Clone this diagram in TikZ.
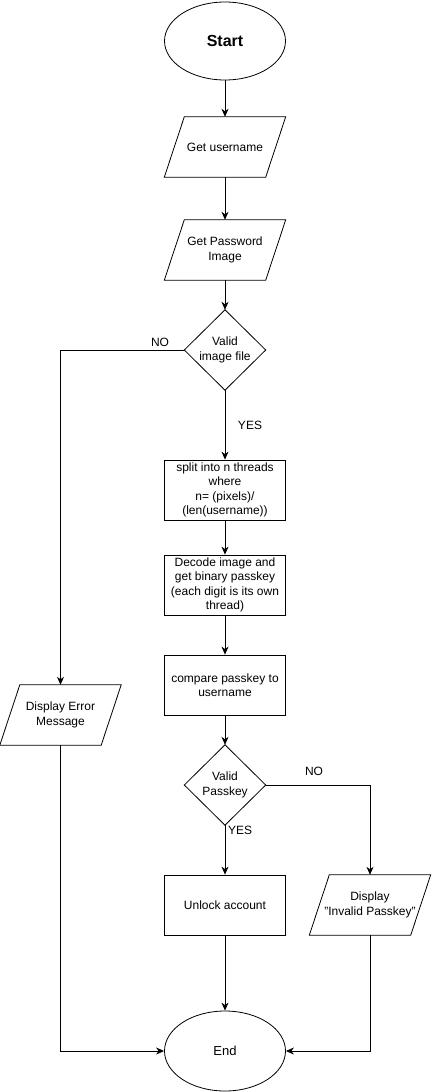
\documentclass[tikz,border=0pt]{standalone}
\usepackage{fontspec}
\setmainfont{Liberation Sans}
\usetikzlibrary{shapes.geometric,arrows.meta}
\begin{document}
\begin{tikzpicture}[x=1pt,y=-1pt,
  base/.style={font=\fontsize{12}{14.5}\selectfont, align=center, inner sep=0pt, text=black},
  term/.style={base, draw, ellipse, minimum width=121, minimum height=80, line width=0.8pt},
  procbox/.style={base, draw, rectangle, minimum width=121, minimum height=60, line width=0.8pt},
  iobox/.style={base, rectangle, minimum width=121, minimum height=60},
  decbox/.style={base, rectangle, minimum width=81, minimum height=80},
  shapeline/.style={line width=0.8pt, line join=miter},
  conn/.style={line width=0.8pt, -{Stealth[length=8pt,width=7pt,inset=2.5pt]}},
  lbl/.style={font=\fontsize{12}{14}\selectfont, inner sep=0pt}
]
\useasboundingbox[fill=white] (0,0) rectangle (431,1092);

\node[term, font=\fontsize{16}{19}\selectfont\bfseries, minimum height=78] (start) at (225,41) {Start};
\node[iobox] (user) at (225,147) {Get username};
\node[iobox] (pwd) at (225,250) {Get Password\\Image};
\node[decbox] (valid1) at (225,350) {Valid\\image file};
\node[procbox] (split) at (225,490) {split into n threads\\where\\n= (pixels)/\\(len(username))};
\node[procbox] (decode) at (225,585) {Decode image and\\get binary passkey\\(each digit is its own\\thread)};
\node[procbox] (compare) at (225,685) {compare passkey to\\username};
\node[iobox] (err) at (60.5,715) {Display Error\\Message};
\node[decbox] (valid2) at (225,785) {Valid\\Passkey};
\node[procbox] (unlock) at (225,905) {Unlock account};
\node[iobox] (inval) at (370,905) {Display\\"Invalid Passkey"};
\node[term, font=\fontsize{13}{15}\selectfont] (end) at (225,1051) {End};

% parallelograms
\foreach \n in {user,pwd,err,inval}{
  \draw[shapeline] ([xshift=20pt]\n.north west) -- (\n.north east) -- ([xshift=-20pt]\n.south east) -- (\n.south west) -- cycle;
}
% diamonds
\foreach \n in {valid1,valid2}{
  \draw[shapeline] (\n.north) -- (\n.east) -- (\n.south) -- (\n.west) -- cycle;
}

% connectors
\draw[conn] (start.south) -- (user.north);
\draw[conn] (user.south) -- (pwd.north);
\draw[conn] (pwd.south) -- (valid1.north);
\draw[conn] (valid1.west) -| (err.north);
\draw[conn] (valid1.south) -- (split.north);
\draw[conn] (split.south) -- (decode.north);
\draw[conn] (decode.south) -- (compare.north);
\draw[conn] (compare.south) -- (valid2.north);
\draw[conn] (valid2.east) -| (inval.north);
\draw[conn] (valid2.south) -- (unlock.north);
\draw[conn] (unlock.south) -- (end.north);
\draw[conn] (err.south) |- (end.west);
\draw[conn] (inval.south) |- (end.east);

% labels
\node[lbl] (no1) at (160,342) {NO};
\node[lbl] (yes1) at (250,425) {YES};
\node[lbl] (no2) at (314,771) {NO};
\node[lbl, anchor=west] (yes2) at (228,830) {YES};
\end{tikzpicture}
\end{document}
